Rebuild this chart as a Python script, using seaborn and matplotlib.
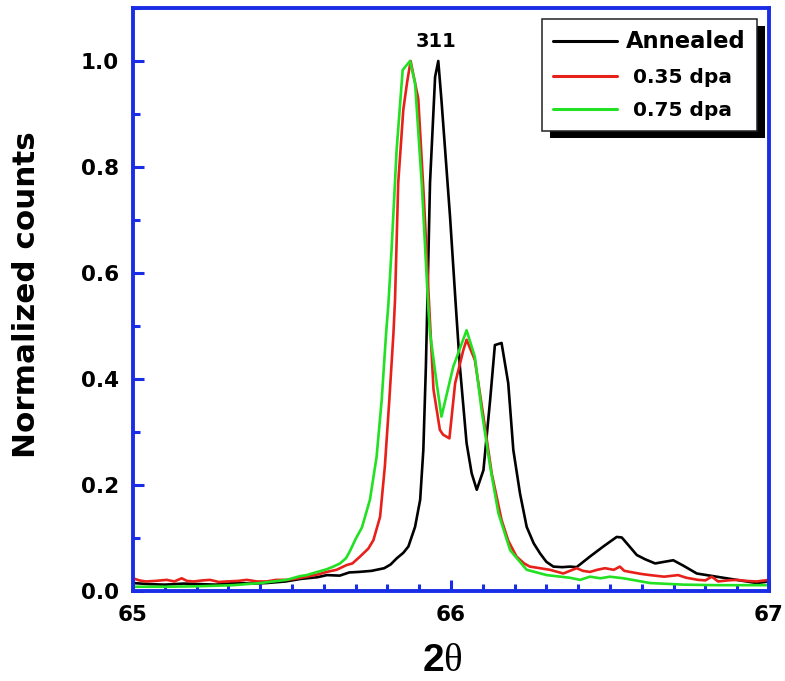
import numpy as np
import pandas as pd
import matplotlib
matplotlib.use("Agg")
import matplotlib.pyplot as plt
from matplotlib.patches import Rectangle
from matplotlib.ticker import MultipleLocator
import seaborn as sns

# ---- data: normalized XRD intensity around the (311) reflection ----
annealed_2theta = [65.00, 65.05, 65.10, 65.16, 65.21, 65.26, 65.32, 65.37, 65.42, 65.48,
                   65.53, 65.58, 65.61, 65.65, 65.68, 65.71, 65.75, 65.79, 65.81, 65.83,
                   65.85, 65.866, 65.887, 65.903, 65.913, 65.921, 65.927, 65.934, 65.950, 65.960,
                   65.970, 65.997, 66.016, 66.028, 66.049, 66.065, 66.081, 66.102, 66.123, 66.138,
                   66.159, 66.180, 66.196, 66.217, 66.238, 66.26, 66.28, 66.30, 66.322, 66.35,
                   66.374, 66.395, 66.437, 66.479, 66.521, 66.537, 66.56, 66.584, 66.61, 66.642,
                   66.67, 66.699, 66.73, 66.773, 66.835, 66.898, 66.961, 67.00]
annealed_counts = [0.015, 0.013, 0.012, 0.014, 0.013, 0.012, 0.015, 0.014, 0.015, 0.018,
                   0.023, 0.026, 0.030, 0.029, 0.035, 0.036, 0.038, 0.043, 0.050, 0.062,
                   0.072, 0.084, 0.121, 0.172, 0.266, 0.423, 0.580, 0.770, 0.970, 1.000,
                   0.926, 0.706, 0.530, 0.423, 0.279, 0.222, 0.191, 0.228, 0.360, 0.464,
                   0.468, 0.392, 0.266, 0.184, 0.121, 0.090, 0.071, 0.055, 0.046, 0.045,
                   0.046, 0.045, 0.065, 0.084, 0.102, 0.101, 0.085, 0.068, 0.060, 0.052,
                   0.055, 0.058, 0.048, 0.033, 0.027, 0.021, 0.015, 0.018]

dpa035_2theta = [65.00, 65.02, 65.04, 65.07, 65.106, 65.13, 65.153, 65.17, 65.19, 65.22,
                 65.242, 65.27, 65.295, 65.33, 65.358, 65.39, 65.42, 65.45, 65.483, 65.51,
                 65.546, 65.58, 65.609, 65.64, 65.672, 65.69, 65.714, 65.74, 65.756, 65.777,
                 65.792, 65.806, 65.819, 65.824, 65.834, 65.850, 65.862, 65.873, 65.897, 65.915,
                 65.932, 65.945, 65.965, 65.975, 65.995, 66.013, 66.039, 66.049, 66.075, 66.102,
                 66.128, 66.159, 66.18, 66.206, 66.23, 66.248, 66.28, 66.311, 66.353, 66.395,
                 66.415, 66.437, 66.46, 66.484, 66.512, 66.531, 66.545, 66.563, 66.60, 66.626,
                 66.67, 66.714, 66.74, 66.777, 66.80, 66.82, 66.84, 66.87, 66.898, 66.93,
                 66.961, 67.00]
dpa035_counts = [0.024, 0.020, 0.018, 0.019, 0.021, 0.018, 0.024, 0.019, 0.018, 0.020,
                 0.021, 0.017, 0.018, 0.019, 0.021, 0.018, 0.018, 0.021, 0.021, 0.023,
                 0.027, 0.031, 0.036, 0.040, 0.049, 0.052, 0.065, 0.080, 0.096, 0.140,
                 0.235, 0.360, 0.486, 0.550, 0.770, 0.908, 0.960, 1.000, 0.929, 0.738,
                 0.530, 0.380, 0.304, 0.295, 0.288, 0.392, 0.455, 0.474, 0.436, 0.329,
                 0.222, 0.134, 0.095, 0.065, 0.052, 0.046, 0.043, 0.040, 0.033, 0.043,
                 0.038, 0.036, 0.040, 0.043, 0.040, 0.046, 0.038, 0.036, 0.032, 0.030,
                 0.027, 0.030, 0.025, 0.021, 0.020, 0.027, 0.018, 0.020, 0.021, 0.019,
                 0.018, 0.021]

dpa075_2theta = [65.00, 65.106, 65.21, 65.315, 65.40, 65.483, 65.525, 65.546, 65.58, 65.609,
                 65.63, 65.651, 65.67, 65.682, 65.70, 65.72, 65.745, 65.766, 65.782, 65.796,
                 65.803, 65.813, 65.829, 65.848, 65.871, 65.887, 65.908, 65.929, 65.934, 65.955,
                 65.970, 66.007, 66.049, 66.075, 66.096, 66.123, 66.149, 66.186, 66.238, 66.301,
                 66.374, 66.406, 66.437, 66.47, 66.50, 66.542, 66.58, 66.626, 66.731, 66.835,
                 67.00]
dpa075_counts = [0.008, 0.008, 0.009, 0.011, 0.015, 0.021, 0.028, 0.030, 0.036, 0.041,
                 0.046, 0.052, 0.062, 0.075, 0.098, 0.120, 0.172, 0.253, 0.360, 0.487,
                 0.540, 0.643, 0.832, 0.983, 1.000, 0.958, 0.769, 0.530, 0.487, 0.392,
                 0.329, 0.423, 0.492, 0.442, 0.342, 0.235, 0.147, 0.077, 0.040, 0.030,
                 0.025, 0.021, 0.027, 0.024, 0.027, 0.024, 0.020, 0.015, 0.012, 0.011,
                 0.011]

series_labels = ["Annealed", " 0.35 dpa", " 0.75 dpa"]
series_colors = ["#000000", "#e8201a", "#22e022"]
x_ticks = [65, 66, 67]
y_ticks = [0.0, 0.2, 0.4, 0.6, 0.8, 1.0]
peak_label = "311"

# ---- styling ----
sns.set_style("white")
plt.rcParams["font.family"] = ["DejaVu Sans"]
plt.rcParams["font.weight"] = "normal"
plt.rcParams["text.color"] = "black"
plt.rcParams["axes.labelcolor"] = "black"
plt.rcParams["xtick.labelcolor"] = "black"
plt.rcParams["ytick.labelcolor"] = "black"
plt.rcParams["mathtext.fontset"] = "custom"
plt.rcParams["mathtext.bf"] = "Liberation Sans:bold"
plt.rcParams["mathtext.rm"] = "Liberation Serif:normal"
plt.rcParams["mathtext.it"] = "Liberation Serif:italic"

spine_blue = "#1a2de6"

fig = plt.figure(figsize=(7.85, 6.81), dpi=100)
ax = fig.add_axes([133 / 785, 1 - 591 / 681, (769 - 133) / 785, (591 - 8) / 681])

frames = []
for lab, xs, ys in zip(series_labels,
                       [annealed_2theta, dpa035_2theta, dpa075_2theta],
                       [annealed_counts, dpa035_counts, dpa075_counts]):
    frames.append(pd.DataFrame({"two_theta": xs, "counts": ys, "sample": lab}))
df = pd.concat(frames, ignore_index=True)

sns.lineplot(data=df, x="two_theta", y="counts", hue="sample",
             hue_order=series_labels, palette=series_colors,
             sort=False, estimator=None, linewidth=1.9, ax=ax)

ax.set_xlim(65, 67)
ax.set_ylim(0, 1.1)
ax.set_xticks(x_ticks)
ax.set_yticks(y_ticks)
ax.set_xticklabels([str(t) for t in x_ticks])
ax.set_yticklabels([f"{t:.1f}" for t in y_ticks])
ax.xaxis.set_minor_locator(MultipleLocator(0.1))
ax.yaxis.set_minor_locator(MultipleLocator(0.1))

for sp in ax.spines.values():
    sp.set_color(spine_blue)
    sp.set_linewidth(2.8)

ax.tick_params(axis="both", which="major", direction="in", length=8, width=2.2,
               color=spine_blue, labelsize=15.5, pad=10, labelcolor="black",
               bottom=True, left=True, top=False, right=False)
ax.tick_params(axis="both", which="minor", direction="in", length=5, width=2.2,
               color=spine_blue, bottom=True, left=True, top=False, right=False)
for lbl in ax.get_xticklabels() + ax.get_yticklabels():
    lbl.set_fontweight("bold")

ax.set_xlabel(r"$\mathbf{2}\mathrm{\theta}$", fontsize=28, color="black")
ax.xaxis.set_label_coords(0.487, -0.085)
ax.set_ylabel("Normalized counts", fontsize=22.3, fontweight="bold", color="black")
ax.yaxis.set_label_coords(-0.145, 0.509)

ax.text(65.953, 1.036, peak_label, ha="center", va="center",
        fontsize=14, fontweight="bold", color="black")

# legend with a solid offset shadow
handles, labels = ax.get_legend_handles_labels()
leg = ax.legend(handles, labels, loc="upper right", bbox_to_anchor=(0.981, 0.981),
                borderaxespad=0, frameon=True, fancybox=False, handlelength=3.2,
                handletextpad=0.45, labelspacing=0.72, borderpad=0.55,
                prop={"weight": "bold", "size": 14.5})
leg.get_frame().set_edgecolor("#222222")
leg.get_frame().set_linewidth(1.1)
leg.get_frame().set_alpha(1.0)
for ln in leg.get_lines():
    ln.set_linewidth(2.2)
for t in leg.get_texts():
    t.set_color("black")
    t.set_fontweight("bold")
leg.get_texts()[0].set_fontsize(16.3)
leg.set_zorder(6)

fig.canvas.draw()
renderer = fig.canvas.get_renderer()
bb = leg.get_frame().get_window_extent(renderer).transformed(ax.transAxes.inverted())
ax_bb = ax.get_window_extent(renderer)
dx = 8 / ax_bb.width
dy = 7 / ax_bb.height
shadow = Rectangle((bb.x0 + dx, bb.y0 - dy), bb.width, bb.height, transform=ax.transAxes,
                   facecolor="black", edgecolor="none", zorder=5.5, clip_on=False)
ax.add_patch(shadow)

fig.savefig("out.png", dpi=100)
